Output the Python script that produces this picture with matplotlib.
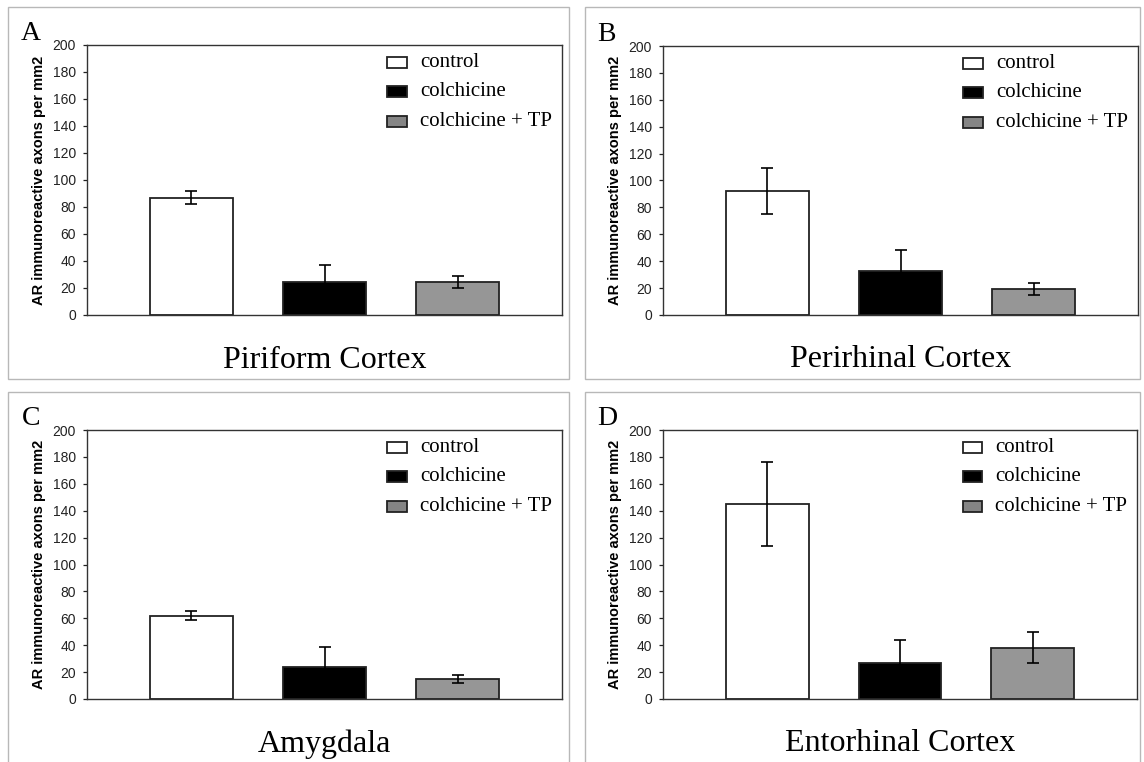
import matplotlib
matplotlib.use('Agg')
import matplotlib.pyplot as plt
from matplotlib.patches import Rectangle

# groups and values (axons per mm2, mean and error)
groups = ['control', 'colchicine', 'colchicine + TP']
letters = ['A', 'B', 'C', 'D']
regions = ['Piriform Cortex', 'Perirhinal Cortex', 'Amygdala', 'Entorhinal Cortex']

piriform_mean = [87, 24.5, 24.5]
piriform_err = [4.5, 12.5, 4.5]
perirhinal_mean = [92, 33, 19]
perirhinal_err = [17, 15.5, 4.5]
amygdala_mean = [62, 23.5, 15]
amygdala_err = [3.5, 15, 3]
entorhinal_mean = [145, 27, 38]
entorhinal_err = [31, 16.5, 11.5]

yticks = [0, 20, 40, 60, 80, 100, 120, 140, 160, 180, 200]

means = [piriform_mean, perirhinal_mean, amygdala_mean, entorhinal_mean]
errs = [piriform_err, perirhinal_err, amygdala_err, entorhinal_err]

bar_colors = ['white', 'black', '#969696']
leg_colors = ['white', 'black', '#858585']
W, H = 1144, 762

fig = plt.figure(figsize=(W / 100, H / 100), dpi=100)

def px(l, t, r, b):
    return [l / W, 1 - b / H, (r - l) / W, (b - t) / H]

# outer panel boxes (pixel coords)
boxes = [(8, 7, 569, 379), (585, 7, 1140, 379), (8, 392, 569, 765), (585, 392, 1140, 765)]
for l, t, r, b in boxes:
    fig.patches.append(Rectangle((l / W, 1 - b / H), (r - l) / W, (b - t) / H,
                                 transform=fig.transFigure, fill=False,
                                 edgecolor='#b8b8b8', lw=1))

axes_px = [(87, 45, 562, 315), (663, 46, 1138, 315), (87, 430, 562, 699), (663, 430, 1137, 699)]

for i in range(4):
    ax = fig.add_axes(px(*axes_px[i]))
    x = range(len(groups))
    ax.bar(x, means[i], width=0.624, color=bar_colors, edgecolor='#222222', lw=1.3, zorder=2)
    ax.errorbar(x, means[i], yerr=errs[i], fmt='none', ecolor='black', elinewidth=1.2,
                capsize=4.5, capthick=1.2, zorder=3)
    ax.set_xlim(-0.785, 2.785)
    ax.set_ylim(0, 200)
    ax.set_yticks(yticks)
    ax.set_xticks([])
    ax.tick_params(axis='y', direction='out', length=3, width=0.9, pad=5,
                   labelsize=10, colors='#222222')
    for lab in ax.get_yticklabels():
        lab.set_fontfamily('Liberation Sans')
    for s in ax.spines.values():
        s.set_color('#333333')
        s.set_linewidth(1.0)
    ax.set_ylabel('AR immunoreactive axons per mm2', fontfamily='Liberation Sans',
                  fontweight='bold', fontsize=10.5, labelpad=5)

    # legend drawn by hand
    rows = [0.935, 0.828, 0.717]
    for j, g in enumerate(groups):
        ax.add_patch(Rectangle((0.632, rows[j] - 0.0205), 0.042, 0.041, transform=ax.transAxes,
                               facecolor=leg_colors[j], edgecolor='#222222', lw=1.3,
                               clip_on=False))
        ax.text(0.701, rows[j], g, transform=ax.transAxes, va='center', ha='left',
                fontfamily='Liberation Serif', fontsize=15)

    ax.text(0.5, -0.167, regions[i], transform=ax.transAxes, ha='center', va='center',
            fontfamily='Liberation Serif', fontsize=23)
    ax.text(-0.118, 1.042, letters[i], transform=ax.transAxes, ha='center', va='center',
            fontfamily='Liberation Serif', fontsize=20)

fig.savefig('out.png', dpi=100)
